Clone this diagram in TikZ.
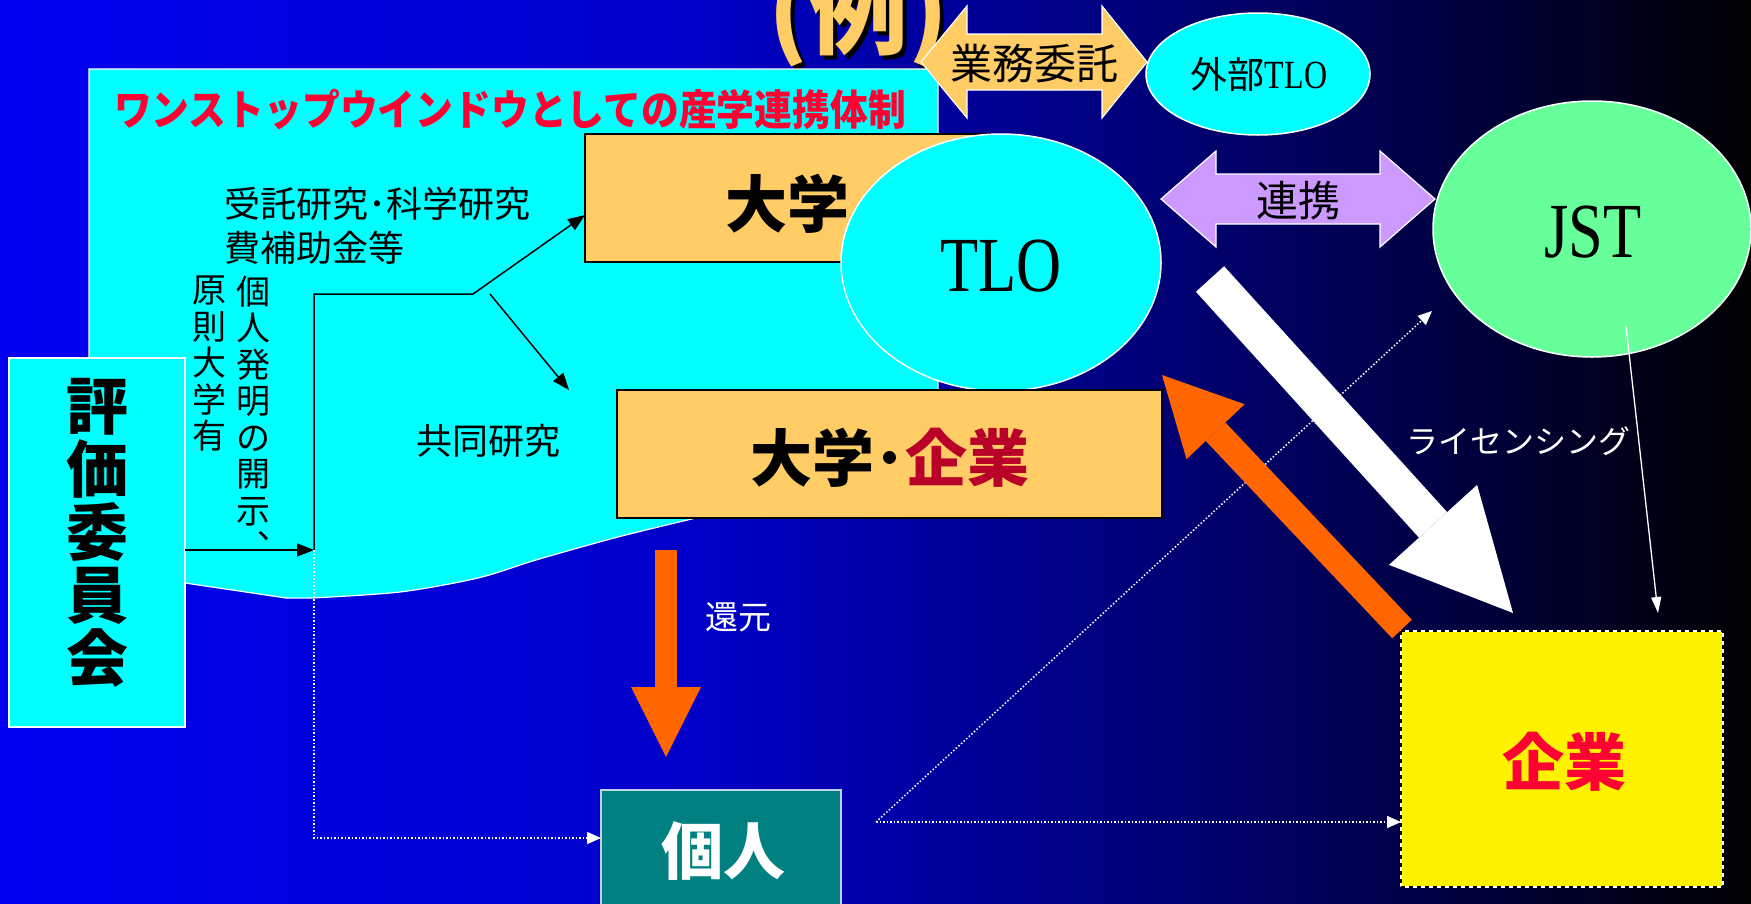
\documentclass[tikz,border=0pt]{standalone}
\usepackage{fontspec}
\setmainfont{Noto Sans CJK JP}
\newfontfamily\serifLat{Liberation Serif}
\usetikzlibrary{arrows.meta,shapes.geometric,calc}
\definecolor{bg0}{RGB}{0,0,240}
\definecolor{bg1}{RGB}{0,0,200}
\definecolor{bg2}{RGB}{0,0,110}
\definecolor{bg3}{RGB}{0,0,55}
\definecolor{bg4}{RGB}{0,0,0}
\definecolor{boxO}{RGB}{255,204,102}
\definecolor{lav}{RGB}{204,153,255}
\definecolor{jstg}{RGB}{102,255,153}
\definecolor{redT}{RGB}{255,0,51}
\definecolor{darkR}{RGB}{184,0,40}
\definecolor{orangeA}{RGB}{255,102,0}
\definecolor{tealB}{RGB}{0,128,128}
\definecolor{kojinB}{RGB}{190,210,230}
\definecolor{cyanA}{RGB}{0,255,255}
\newcommand\fsz[1]{\fontsize{#1}{#1}\selectfont}
\tikzset{
  every node/.style={inner sep=0pt, outer sep=0pt},
  blk/.style={draw=black, line width=1.5pt, -{Triangle[length=17pt,width=13pt]}},
  dotw/.style={draw=white, line width=1.5pt, dash pattern=on 1.5pt off 2pt, -{Triangle[length=14pt,width=12pt]}},
  bigw/.style={white, line width=38pt, -{Triangle[length=119pt,width=119pt,line width=0pt]}},
  bigo/.style={orangeA, line width=27pt, -{Triangle[length=78pt,width=80pt,line width=0pt]}},
  downo/.style={orangeA, line width=22pt, -{Triangle[length=70pt,width=70pt,line width=0pt]}},
  thinw/.style={draw=white, line width=1.3pt, -{Triangle[length=16pt,width=10pt]}},
  obox/.style={draw=black, line width=2pt, fill=boxO, anchor=north west},
  oval/.style={ellipse, draw=white, line width=1.5pt},
  dblarrow/.style={draw=white, line width=1.2pt}
}
\begin{document}
\begin{tikzpicture}[x=1pt,y=-1pt]
\useasboundingbox (0,0) rectangle (1751,903);
\clip (0,0) rectangle (1751,903);
% background
\shade[left color=bg0,right color=bg1] (0,0) rectangle (701,903);
\shade[left color=bg1,right color=bg2] (700,0) rectangle (1201,903);
\shade[left color=bg2,right color=bg3] (1200,0) rectangle (1501,903);
\shade[left color=bg3,right color=bg4] (1500,0) rectangle (1751,903);
% title (例)
\node[font=\fsz{100}\bfseries, text=black, anchor=base] (reishadow) at (862,50) {(例)};
\node[font=\fsz{100}\bfseries, text=boxO, anchor=base] (rei) at (858,46) {(例)};
% cyan region
\path[fill=cyanA, draw=white, line width=1.2pt] (89,69) -- (938,69) -- (938,515) -- (700,517)
  -- plot[smooth, tension=0.5] coordinates {(700,517) (618,537) (536,560) (478,578) (400,592) (312,598)}
  -- (286,598) -- (185,583) -- (89,568) -- cycle;
\node[font=\fsz{42}\bfseries, text=redT] (wtitle) at (510,109) {\scalebox{0.9}[1]{ワンストップウインドウとしての産学連携体制}};
% 業務委託 arrow
\path[dblarrow, fill=boxO] (921,62) -- (967,6) -- (967,34) -- (1102,34) -- (1102,6) -- (1147,62)
  -- (1102,118) -- (1102,90) -- (967,90) -- (967,118) -- cycle;
\node[font=\fsz{42}] (gyomu) at (1034,64) {業務委託};
% 外部TLO
\node[oval, fill=cyanA, minimum width=224, minimum height=122] (gaibu) at (1258,74) {};
\node (gaibuT) at (1259,74) {\fsz{37}外部\serifLat\fsz{40}\scalebox{0.8}[1]{TLO}};
% 大学 box
\node[obox, minimum width=405, minimum height=128] (daigaku) at (585,134) {};
\node[font=\fsz{62}\bfseries] (daigakuT) at (787,204) {大学};
% TLO
\node[oval, fill=cyanA, minimum width=320, minimum height=257] (tlo) at (1001,262.5) {};
\node[font=\serifLat\fsz{78}] (tloT) at (1001,266) {\scalebox{0.8}[1]{TLO}};
% 大学・企業 box
\node[obox, minimum width=545, minimum height=128] (dk) at (617,390) {};
\node[font=\fsz{62}\bfseries] (dkT) at (890,458) {大学･\textcolor{darkR}{企業}};
% 連携 arrow
\path[dblarrow, fill=lav] (1161,199) -- (1216,151) -- (1216,174) -- (1380,174) -- (1380,151) -- (1435,199)
  -- (1380,247) -- (1380,224) -- (1216,224) -- (1216,247) -- cycle;
\node[font=\fsz{42}] (renkei) at (1298,201) {連携};
% JST
\node[oval, fill=jstg, minimum width=318, minimum height=256] (jst) at (1592,229) {};
\node[font=\serifLat\fsz{78}] (jstT) at (1593,232) {\scalebox{0.8}[1]{JST}};
% 評価委員会
\node[draw=white, line width=1.5pt, fill=cyanA, minimum width=176, minimum height=369, anchor=north west] (hyoka) at (9,358) {};
\node[font=\fontsize{62}{63}\selectfont\bfseries, align=center] (hyokaT) at (97,533) {評\\価\\委\\員\\会};
% texts in cyan region
\node[font=\fontsize{36}{44}\selectfont, align=left, anchor=north west] (jutaku) at (224,187) {受託研究･科学研究\\費補助金等};
\node[font=\fsz{36}] (kyodo) at (488,441) {共同研究};
\node[font=\fontsize{34}{36.5}\selectfont, align=center, anchor=north] (col1) at (209,276) {原\\則\\大\\学\\有};
\node[font=\fontsize{34}{36.5}\selectfont, align=center, anchor=north] (col2) at (253,276) {個\\人\\発\\明\\の\\開\\示\\︑};
% black connectors
\coordinate (j1) at (314,550);
\coordinate (j2) at (314,294);
\coordinate (j3) at (473,294);
\coordinate (j4) at (490,294);
\coordinate (a1) at (585,215);
\coordinate (a2) at (569,390);
\draw[blk] (hyoka.east |- j1) -- (j1);
\draw[blk] (j1) -- (j2) -- (j3) -- (a1);
\draw[blk] (j4) -- (a2);
% 個人 box
\node[fill=tealB, draw=kojinB, line width=1.5pt, minimum width=240, minimum height=140, anchor=north west] (kojin) at (601,790) {};
\node[font=\fsz{62}\bfseries, text=white] (kojinT) at (723,851) {個人};
% 企業 box
\node[fill=yellow, minimum width=322, minimum height=256, anchor=north west] (kigyo) at (1401,631) {};
\draw[white, line width=2pt] (kigyo.north west) rectangle (kigyo.south east);
\draw[black, line width=2pt, dash pattern=on 4pt off 4pt] (kigyo.north west) rectangle (kigyo.south east);
\node[font=\fsz{62}\bfseries, text=redT] (kigyoT) at (1564,762) {企業};
% dotted connectors
\coordinate (k1) at (314,838);
\coordinate (d0) at (876,822);
\coordinate (jstin) at (1432,311);
\draw[dotw] (j1) -- (k1) -- (kojin.west |- k1);
\draw[dotw] (d0) -- (jstin);
\draw[dotw] (d0) -- (kigyo.west |- d0);
% 還元
\coordinate (r0) at (666,550);
\coordinate (r1) at (666,757);
\draw[downo] (r0) -- (r1);
\node[font=\fsz{33}, text=white] (kangen) at (738,617) {還元};
% big arrows
\coordinate (w0) at (1210,279);
\coordinate (w1) at (1513,613);
\draw[bigw] (w0) -- (w1);
\coordinate (o0) at (1402,629);
\coordinate (o1) at (1162,375);
\draw[bigo] (o0) -- (o1);
% JST -> 企業 thin arrow
\coordinate (t0) at (1626,326);
\coordinate (t1) at (1658,613);
\draw[thinw] (t0) -- (t1);
\node[font=\fsz{32}, text=white] (lic) at (1518,441) {ライセンシング};
\end{tikzpicture}
\end{document}
